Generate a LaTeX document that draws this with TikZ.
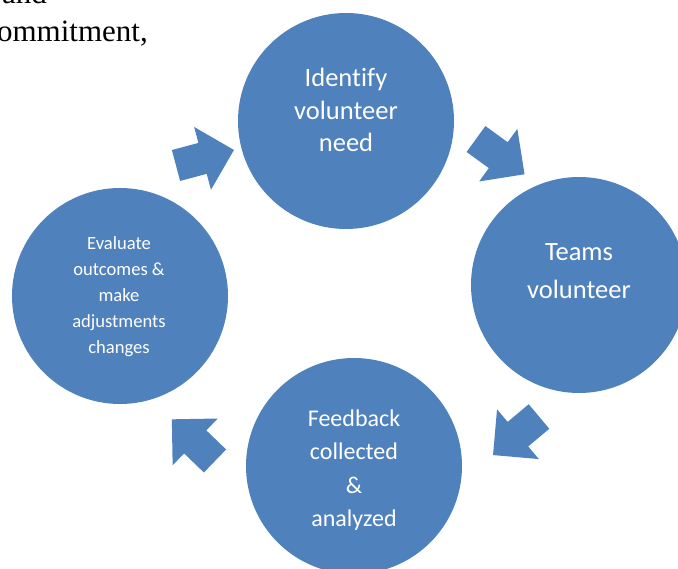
\documentclass[tikz,border=0pt]{standalone}
\usepackage{fontspec}
\setmainfont{Liberation Serif}
\newfontfamily\circfont[Ligatures=CommonOff]{Carlito}
\definecolor{accent}{RGB}{79,129,189}
\tikzset{
  stagecirc/.style={circle, fill=accent, draw=none, minimum size=216pt, inner sep=0pt},
  stagetext/.style={text=white, align=center, inner sep=0pt},
  blockarrow/.style={fill=accent, draw=none},
}
\newcommand\blockarr[3]{%
  \path[blockarrow, shift={(#1,#2)}, rotate=#3]
    (0,-16) -- (27.5,-16) -- (27.5,-32.5) -- (60,0) -- (27.5,32.5) -- (27.5,16) -- (0,16) -- cycle;}
\begin{document}
\begin{tikzpicture}[x=1pt,y=-1pt]
\useasboundingbox (0,0) rectangle (678,569);
\clip (0,0) rectangle (678,569);
% body text behind the figure
\node[anchor=base east, inner sep=0pt, font=\fontsize{31}{36}\selectfont] (txtand) at (47,4) {and};
\node[anchor=base east, inner sep=0pt, font=\fontsize{31}{36}\selectfont] (txtcom) at (148,42) {commitment,};
% stages
\node[stagecirc] (c1) at (346,121) {};
\node[stagecirc] (c2) at (579,285) {};
\node[stagecirc] (c3) at (354,466) {};
\node[stagecirc] (c4) at (120,296) {};
\node[stagetext, font=\circfont\fontsize{26.5}{32.5}\selectfont] (t1) at (346,110) {Identify\\volunteer\\need};
\node[stagetext, font=\circfont\fontsize{26.5}{38}\selectfont] (t2) at (579,271.5) {Teams\\volunteer};
\node[stagetext, font=\circfont\fontsize{24}{33.3}\selectfont] (t3) at (354,470) {Feedback\\collected\\\&\\analyzed};
\node[stagetext, font=\circfont\fontsize{18.6}{26}\selectfont] (t4) at (119,296.5) {Evaluate\\outcomes \&\\make\\adjustments\\changes};
% arrows
\blockarr{176}{165.5}{15}
\blockarr{476}{139}{-36}
\blockarr{539}{416.5}{220}
\blockarr{215}{461}{136}
\end{tikzpicture}
\end{document}
